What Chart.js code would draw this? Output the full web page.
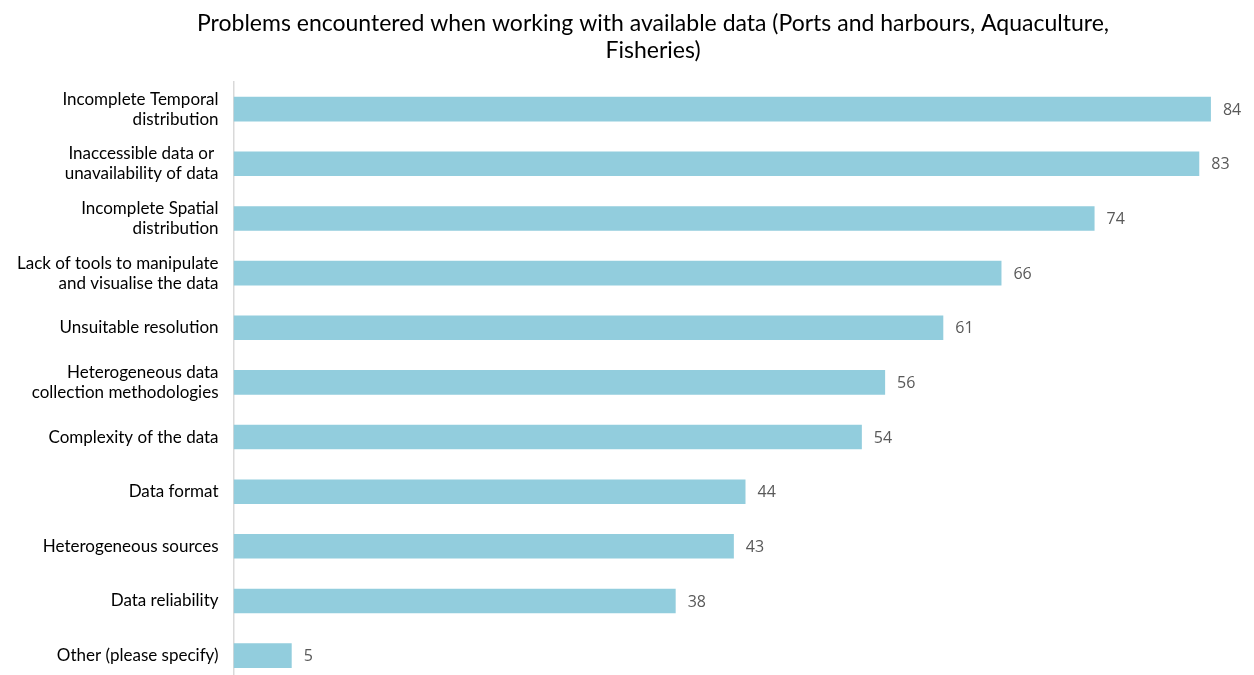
<!DOCTYPE html>
<html>
<head>
<meta charset="utf-8">
<script src="https://cdn.jsdelivr.net/npm/chart.js@4.4.1/dist/chart.umd.min.js"></script>
<style>
  html, body { margin: 0; padding: 0; background: #ffffff; overflow: hidden; }
  #wrap { position: absolute; left: 0; top: 0; width: 1329px; height: 718px; }
</style>
</head>
<body>
<div id="wrap"><canvas id="c" width="1329" height="718"></canvas></div>
<script>
const titleLines = ["Problems encountered when working with available data (Ports and harbours, Aquaculture,", "Fisheries)"];
const categories = [
  ["Incomplete Temporal", "distribution"],
  ["Inaccessible data or ", "unavailability of data"],
  ["Incomplete Spatial", "distribution"],
  ["Lack of tools to manipulate", "and visualise the data"],
  "Unsuitable resolution",
  ["Heterogeneous data", "collection methodologies"],
  "Complexity of the data",
  "Data format",
  "Heterogeneous sources",
  "Data reliability",
  "Other (please specify)"
];
const values = [84, 83, 74, 66, 61, 56, 54, 44, 43, 38, 5];

const valueLabels = {
  id: 'valueLabels',
  afterDatasetsDraw(chart) {
    const ctx = chart.ctx;
    const meta = chart.getDatasetMeta(0);
    ctx.save();
    ctx.font = '16px "Open Sans", sans-serif';
    ctx.fillStyle = '#595959';
    ctx.textAlign = 'left';
    ctx.textBaseline = 'middle';
    meta.data.forEach((bar, i) => {
      ctx.fillText(String(values[i]), bar.x + 12, bar.y + 1);
    });
    ctx.restore();
  }
};

new Chart(document.getElementById('c'), {
  type: 'bar',
  data: {
    labels: categories,
    datasets: [{
      data: values,
      backgroundColor: '#92CDDD',
      borderWidth: 0,
      categoryPercentage: 1,
      barPercentage: 0.45
    }]
  },
  options: {
    indexAxis: 'y',
    responsive: false,
    animation: false,
    layout: { padding: { left: 2, right: 25, top: 0, bottom: 0 } },
    plugins: {
      legend: { display: false },
      tooltip: { enabled: false },
      title: {
        display: true,
        text: titleLines,
        color: '#000000',
        font: { family: 'Lato, sans-serif', size: 23, weight: 'normal', lineHeight: 1.17 },
        padding: { top: 10, bottom: 18 }
      }
    },
    scales: {
      x: {
        display: false,
        min: 0,
        max: 92
      },
      y: {
        grid: { display: false, drawTicks: false },
        border: { display: true, color: '#d9d9d9', width: 1.5 },
        ticks: {
          color: '#000000',
          padding: 15,
          font: { family: 'Lato, sans-serif', size: 17, lineHeight: 1.18 }
        }
      }
    }
  },
  plugins: [valueLabels]
});
</script>
</body>
</html>
